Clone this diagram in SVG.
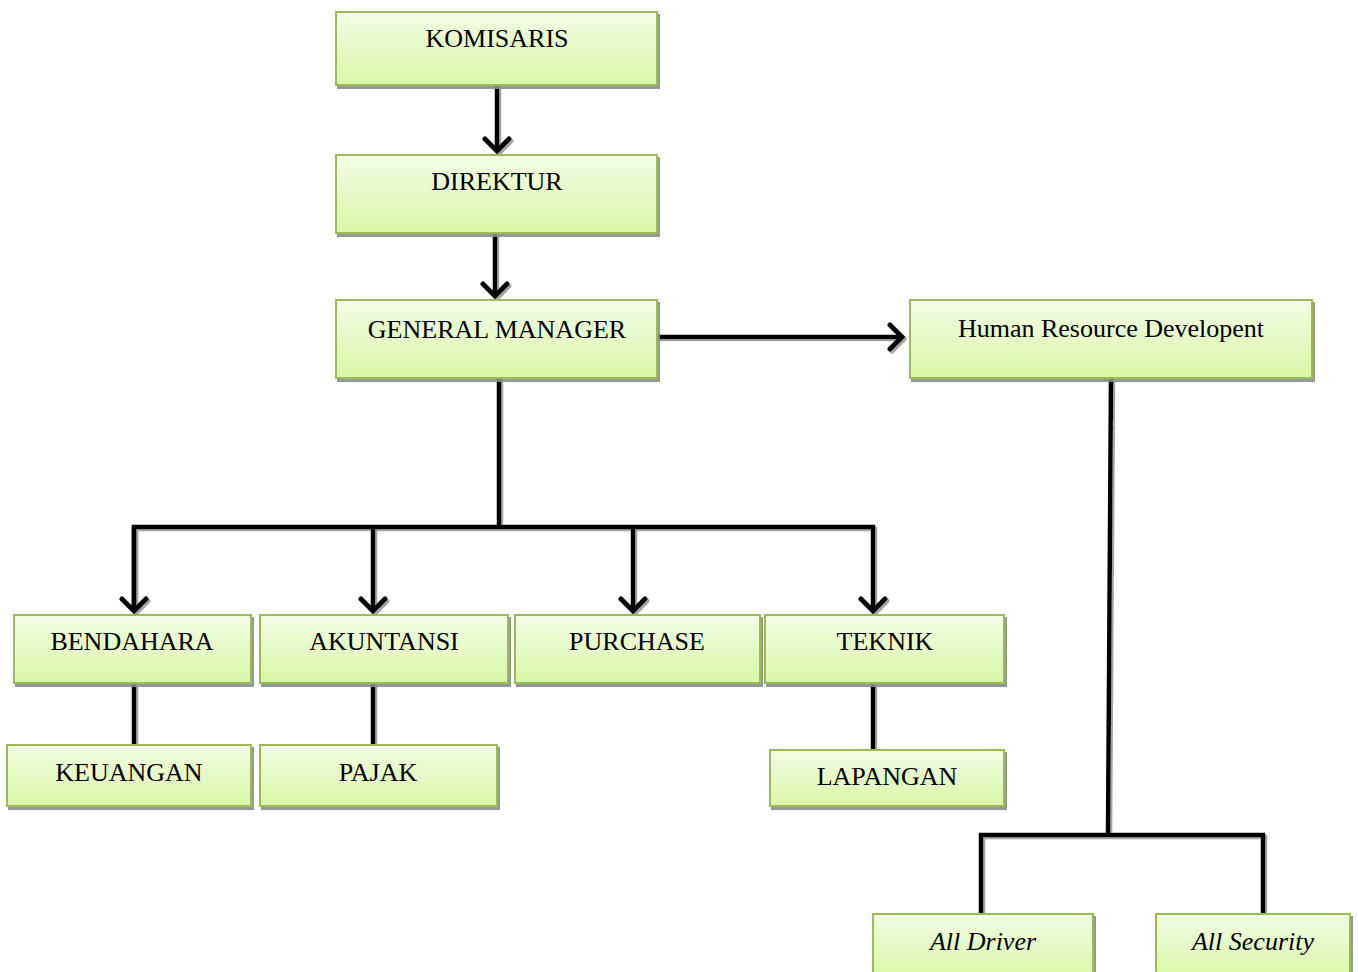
<svg xmlns="http://www.w3.org/2000/svg" width="1358" height="972" viewBox="0 0 1358 972">
<defs>
<linearGradient id="g" x1="0" y1="0" x2="0" y2="1">
<stop offset="0" stop-color="#f3fde6"/>
<stop offset="1" stop-color="#d8f7a6"/>
</linearGradient>
<filter id="sh" x="-10%" y="-10%" width="130%" height="130%">
<feDropShadow dx="2" dy="3" stdDeviation="0.6" flood-color="#8c8c8c" flood-opacity="0.9"/>
</filter>
<filter id="lsh" x="-20%" y="-20%" width="140%" height="140%">
<feDropShadow dx="2" dy="2" stdDeviation="0.6" flood-color="#9a9a9a" flood-opacity="0.9"/>
</filter>
<marker id="arr" markerUnits="userSpaceOnUse" markerWidth="36" markerHeight="36" refX="16" refY="15" orient="auto">
<path d="M4,3 L16,15 L4,27" fill="none" stroke="#000" stroke-width="5" stroke-linecap="round" stroke-linejoin="miter"/>
</marker>
</defs>
<style>
.box{fill:url(#g);stroke:#9bbb59;stroke-width:2;filter:url(#sh)}
.t{font-family:"Liberation Serif","Times New Roman",serif;font-size:26px;fill:#000;text-anchor:middle}
.i{font-style:italic}
.c{fill:none;stroke:#000;stroke-width:4.5;stroke-linejoin:miter}
</style>
<rect width="1358" height="972" fill="#fff"/>
<g id="connectors" filter="url(#lsh)">
<path class="c" d="M497,85 V151" marker-end="url(#arr)"/>
<path class="c" d="M495,233 V296" marker-end="url(#arr)"/>
<path class="c" d="M657,337 H902" marker-end="url(#arr)"/>
<path class="c" d="M499,378 V527"/>
<path class="c" d="M134,610 V527 H873 V611" marker-end="url(#arr)"/>
<path class="c" d="M134,527 V611" marker-end="url(#arr)"/>
<path class="c" d="M373,527 V611" marker-end="url(#arr)"/>
<path class="c" d="M633,527 V611" marker-end="url(#arr)"/>
<path class="c" d="M134,683 V745"/>
<path class="c" d="M373,683 V745"/>
<path class="c" d="M873,683 V750"/>
<path class="c" d="M1111,378 L1108,835"/>
<path class="c" d="M981,914 V835 H1263 V914"/>
</g>
<g id="komisaris"><rect class="box" x="336" y="12" width="321" height="73"/><text class="t" x="497" y="47">KOMISARIS</text></g>
<g id="direktur"><rect class="box" x="336" y="155" width="321" height="78"/><text class="t" x="497" y="190">DIREKTUR</text></g>
<g id="general-manager"><rect class="box" x="336" y="300" width="321" height="78"/><text class="t" x="497" y="338">GENERAL MANAGER</text></g>
<g id="hrd"><rect class="box" x="910" y="300" width="402" height="78"/><text class="t" x="1111" y="337">Human Resource Developent</text></g>
<g id="bendahara"><rect class="box" x="14" y="615" width="237" height="68"/><text class="t" x="132" y="650">BENDAHARA</text></g>
<g id="akuntansi"><rect class="box" x="260" y="615" width="248" height="68"/><text class="t" x="384" y="650">AKUNTANSI</text></g>
<g id="purchase"><rect class="box" x="515" y="615" width="245" height="68"/><text class="t" x="637" y="650">PURCHASE</text></g>
<g id="teknik"><rect class="box" x="765" y="615" width="239" height="68"/><text class="t" x="885" y="650">TEKNIK</text></g>
<g id="keuangan"><rect class="box" x="7" y="745" width="244" height="61"/><text class="t" x="129" y="781">KEUANGAN</text></g>
<g id="pajak"><rect class="box" x="260" y="745" width="237" height="61"/><text class="t" x="378" y="781">PAJAK</text></g>
<g id="lapangan"><rect class="box" x="770" y="750" width="234" height="56"/><text class="t" x="887" y="785">LAPANGAN</text></g>
<g id="all-driver"><rect class="box" x="873" y="914" width="220" height="64"/><text class="t i" x="983" y="950">All Driver</text></g>
<g id="all-security"><rect class="box" x="1156" y="914" width="194" height="64"/><text class="t i" x="1253" y="950">All Security</text></g>
</svg>
